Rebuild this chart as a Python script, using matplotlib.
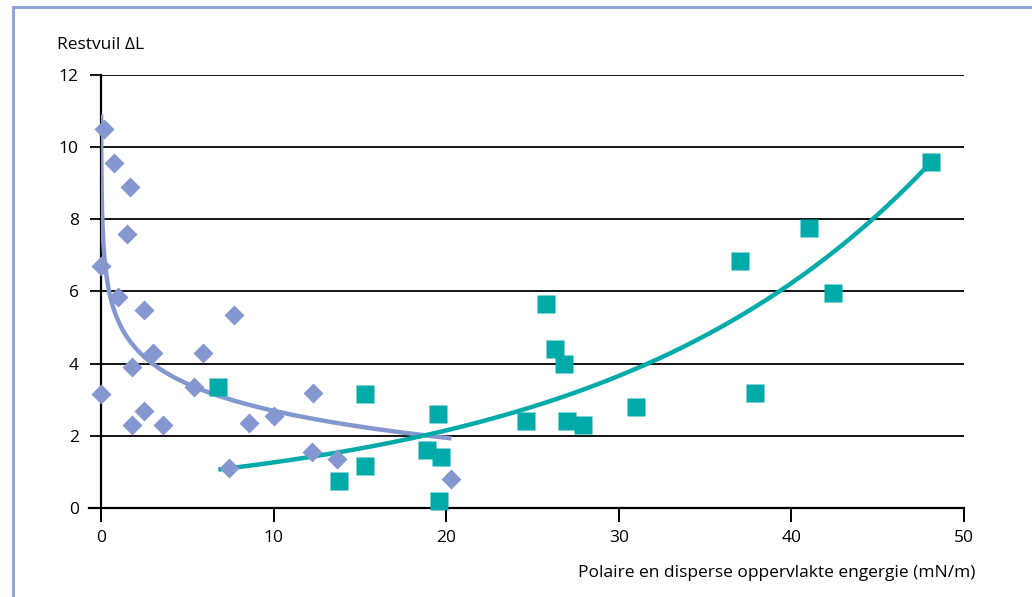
import numpy as np
import matplotlib
matplotlib.use('Agg')
import matplotlib.pyplot as plt
from matplotlib.patches import Rectangle

# Restvuil (diamonds, blue) tegen polaire oppervlakte energie
blue_x = [0.2, 0.75, 1.7, 1.5, 0.01, 1.0, 2.5, 3.0, 1.8, 0.005, 2.5, 1.8, 3.6,
          5.4, 5.9, 7.7, 8.6, 10.0, 12.3, 12.2, 13.7, 7.4, 20.3]
blue_y = [10.5, 9.55, 8.9, 7.6, 6.7, 5.85, 5.5, 4.3, 3.9, 3.15, 2.7, 2.3, 2.3,
          3.35, 4.3, 5.35, 2.35, 2.55, 3.2, 1.55, 1.35, 1.1, 0.8]

# Restvuil (squares, teal) tegen disperse oppervlakte energie
teal_x = [6.8, 15.3, 13.8, 15.3, 19.5, 18.9, 19.7, 19.6, 25.8, 26.3, 26.8,
          24.6, 27.0, 27.9, 31.0, 37.0, 37.9, 41.0, 42.4, 48.1]
teal_y = [3.35, 3.15, 0.75, 1.15, 2.6, 1.6, 1.4, 0.2, 5.65, 4.4, 4.0,
          2.4, 2.4, 2.3, 2.8, 6.85, 3.2, 7.75, 5.95, 9.6]

# trendlijnen zoals in de grafiek: y = a + b ln(x)  en  y = A exp(k x)
blue_trend = (5.18, -1.08)
teal_trend = (0.742, 0.0532)

x_ticks = [0, 10, 20, 30, 40, 50]
y_ticks = [0, 2, 4, 6, 8, 10, 12]

blue = '#8497cf'
teal = '#00aaa8'

plt.rcParams['font.family'] = ['Open Sans', 'DejaVu Sans']
plt.rcParams['font.size'] = 12.5

fig = plt.figure(figsize=(10.32, 5.97), dpi=100)
ax = fig.add_axes([0.0979, 0.1491, 0.8362, 0.7253])

xb = np.geomspace(min(blue_x), max(blue_x), 400)
ax.plot(xb, blue_trend[0] + blue_trend[1] * np.log(xb), color=blue, lw=3.2,
        zorder=3, solid_capstyle='butt')

xt = np.linspace(min(teal_x), max(teal_x), 300)
ax.plot(xt, teal_trend[0] * np.exp(teal_trend[1] * xt), color=teal, lw=3.2,
        zorder=3, solid_capstyle='butt')

ax.plot(teal_x, teal_y, ls='none', marker='s', ms=13.5, color=teal,
        mec='none', zorder=4, clip_on=False)
ax.plot(blue_x, blue_y, ls='none', marker='D', ms=10, color=blue,
        mec='none', zorder=5, clip_on=False)

ax.set_xlim(0, 50)
ax.set_ylim(0, 12)
ax.set_xticks(x_ticks)
ax.set_yticks(y_ticks)
ax.yaxis.grid(True, color='black', lw=1.3)
ax.set_axisbelow(True)
for s in ['top', 'right']:
    ax.spines[s].set_visible(False)
for s in ['left', 'bottom']:
    ax.spines[s].set_linewidth(1.6)
ax.tick_params(axis='x', length=10, width=1.4, pad=6)
ax.tick_params(axis='y', length=8, width=1.3, pad=8)
ax.spines['bottom'].set_bounds(-0.7, 50)

fig.text(0.0552, 0.9246, 'Restvuil \u0394L', va='center', ha='left')
fig.text(0.945, 0.04, 'Polaire en disperse oppervlakte engergie (mN/m)',
         ha='right', va='center')

# lichtblauw kader
fig.patches.append(Rectangle((0.0126, -0.1), 1.1, 1.088,
                             transform=fig.transFigure, fill=False,
                             edgecolor='#8a9fd4', lw=2))

fig.savefig('out.png', dpi=100)
